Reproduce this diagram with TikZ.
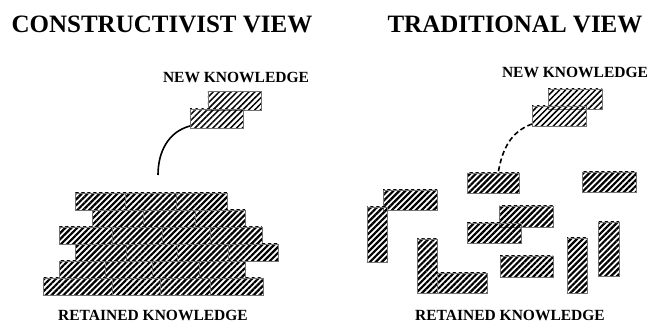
\documentclass[tikz,border=0pt]{standalone}
\usepackage{fontspec}
\setmainfont{Liberation Serif}
\usetikzlibrary{patterns.meta,positioning}

\begin{document}
\begin{tikzpicture}[
    x=1pt, y=1pt,
    brick/.style={
        draw=black!55, line width=0.4pt,
        inner sep=0pt, anchor=south west,
        pattern={Lines[angle=45,distance=4.2pt,line width=2.2pt]}
    },
    newbrick/.style={
        brick,
        pattern={Lines[angle=45,distance=4.2pt,line width=1.5pt]}
    },
    heading/.style={font=\bfseries\fontsize{25}{25}\selectfont},
    knowtext/.style={font=\bfseries\fontsize{15.5}{15.5}\selectfont}
]
\useasboundingbox (0,0) rectangle (651,323);

\node[heading] (titleA) at (162,299) {CONSTRUCTIVIST VIEW};
\node[heading] (titleB) at (515,299) {TRADITIONAL VIEW};
\node[knowtext] (newA) at (236,246) {NEW KNOWLEDGE};
\node[knowtext] (newB) at (575,251) {NEW KNOWLEDGE};
\node[knowtext] (oldA) at (153,8) {RETAINED KNOWLEDGE};
\node[knowtext] (oldB) at (510,8) {RETAINED KNOWLEDGE};

\node[newbrick, minimum width=53pt, minimum height=19pt] (newA1) at (207,212) {};
\node[newbrick, minimum width=53pt, minimum height=19pt] (newA2) at (190,195) {};
\node[newbrick, minimum width=54pt, minimum height=20pt] (newB1) at (548,214) {};
\node[newbrick, minimum width=54pt, minimum height=20pt] (newB2) at (532,197) {};

\foreach \x/\w/\y [count=\i] in {
    75/50/113, 125/51/113, 176/51/113,
    92/51/96, 143/52/96, 195/50/96,
    59/53/79, 112/50/79, 162/48/79, 210/52/79,
    75/51/62, 126/51/62, 177/51/62, 228/50/62,
    59/46/45, 105/47/45, 152/47/45, 199/46/45,
    43/69/28, 112/48/28, 160/50/28, 210/53/28}
    \node[brick, minimum width=\w pt, minimum height=17pt] (wall\i) at (\x,\y) {};

\node[brick, minimum width=52pt, minimum height=20pt] (pA) at (467,130) {};
\node[brick, minimum width=54pt, minimum height=20pt] (pB) at (582,131) {};
\node[brick, minimum width=54pt, minimum height=20pt] (pC) at (383,113) {};
\node[brick, minimum width=20pt, minimum height=55pt] (pD) at (367,61) {};
\node[brick, minimum width=54pt, minimum height=21pt] (pE) at (499,96) {};
\node[brick, minimum width=54pt, minimum height=20pt] (pF) at (467,80) {};
\node[brick, minimum width=20pt, minimum height=54pt] (pG) at (417,30) {};
\node[brick, minimum width=50pt, minimum height=20pt] (pH) at (437,30) {};
\node[brick, minimum width=53pt, minimum height=21pt] (pI) at (500,46) {};
\node[brick, minimum width=20pt, minimum height=55pt] (pJ) at (567,30) {};
\node[brick, minimum width=21pt, minimum height=54pt] (pK) at (598,47) {};

\coordinate (tip) at (158,148);
\draw[line width=1.6pt] ([yshift=2pt]newA2.south west) to[out=195,in=90] (tip);
\draw[line width=1.6pt, dash pattern=on 5pt off 3pt]
    ([yshift=2pt]newB2.south west) to[out=200,in=80] ([xshift=5pt]pA.north);
\end{tikzpicture}
\end{document}
